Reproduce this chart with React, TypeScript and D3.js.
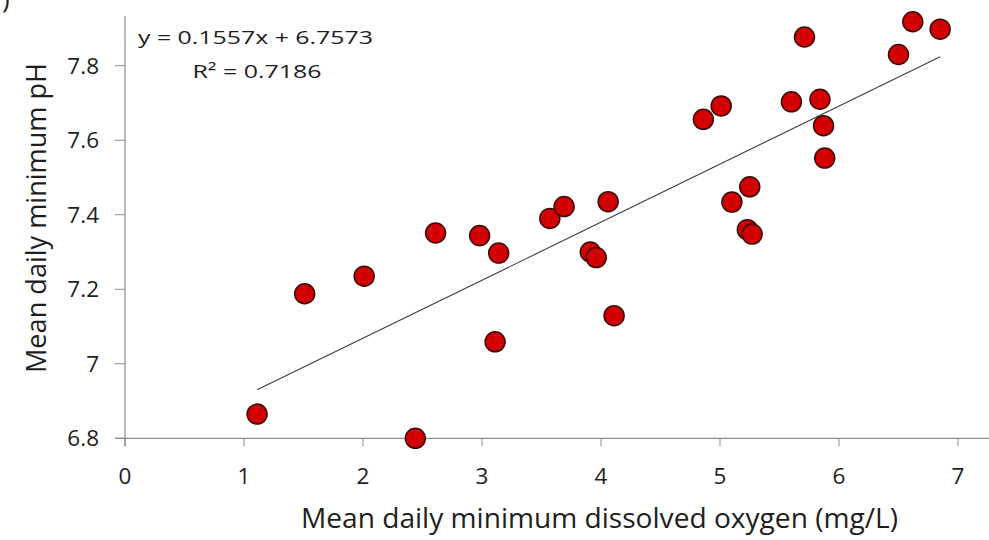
import React from "react";
import * as d3 from "d3";

const oxygen = [1.11, 1.51, 2.01, 2.44, 2.61, 2.98, 3.11, 3.14, 3.57, 3.69, 3.91, 3.96, 4.06, 4.11, 4.86, 5.01, 5.10, 5.23, 5.25, 5.27, 5.60, 5.71, 5.84, 5.87, 5.88, 6.50, 6.62, 6.85];
const minPH = [6.865, 7.188, 7.235, 6.80, 7.351, 7.344, 7.059, 7.297, 7.39, 7.422, 7.30, 7.285, 7.435, 7.129, 7.656, 7.692, 7.434, 7.36, 7.475, 7.348, 7.703, 7.877, 7.71, 7.639, 7.552, 7.83, 7.918, 7.898];
const xTicks = [0, 1, 2, 3, 4, 5, 6, 7];
const yTicks = [6.8, 7, 7.2, 7.4, 7.6, 7.8];
const slope = 0.1557;
const intercept = 6.7573;
const eqLabel = "y = 0.1557x + 6.7573";
const r2Label = "R² = 0.7186";
const xTitle = "Mean daily minimum dissolved oxygen (mg/L)";
const yTitle = "Mean daily minimum pH";

export default function App() {
  const W = 989, H = 540;
  const x = d3.scaleLinear().domain([0, 7]).range([125, 958]);
  const y = d3.scaleLinear().domain([6.8, 7.8]).range([438.3, 65.7]);
  const font = "'Open Sans', Lato, sans-serif";
  const xMin = d3.min(oxygen) as number;
  const xMax = d3.max(oxygen) as number;
  const line = d3.line<number>().x((d) => x(d)).y((d) => y(slope * d + intercept));
  const pts = oxygen.map((o, i) => ({ o, p: minPH[i] }));
  const ink = "#1e1e1e";
  return (
    <svg width={W} height={H} style={{ position: "absolute", left: 0, top: 0, background: "#fff" }} fontFamily={font}>
      <text x={2} y={8} fontSize={26} fill={ink}>)</text>
      {/* axes */}
      <line x1={115} x2={989} y1={y(6.8)} y2={y(6.8)} stroke="#8c8c8c" strokeWidth={1.2} />
      <line x1={x(0)} x2={x(0)} y1={y(6.8) + 8} y2={16} stroke="#8c8c8c" strokeWidth={1.2} />
      {xTicks.map((t) => (
        <g key={"xt" + t}>
          <line x1={x(t)} x2={x(t)} y1={y(6.8)} y2={y(6.8) + 8} stroke="#8c8c8c" strokeWidth={1} />
          <text x={x(t)} y={483.5} textAnchor="middle" fontSize={22.5} fill={ink}>{t}</text>
        </g>
      ))}
      {yTicks.map((t) => (
        <g key={"yt" + t}>
          <line x1={115} x2={x(0)} y1={y(t)} y2={y(t)} stroke="#8c8c8c" strokeWidth={1} />
          <text x={99} y={y(t) + 8} textAnchor="end" fontSize={22.5} fill={ink}>{String(t)}</text>
        </g>
      ))}
      {/* trendline */}
      <path d={line([xMin, xMax]) || ""} stroke="#3c3c3c" strokeWidth={1.1} fill="none" />
      {/* points */}
      {pts.map((d, i) => (
        <circle key={i} cx={x(d.o)} cy={y(d.p)} r={10} fill="#d20000" stroke="#3a0a0a" strokeWidth={1.5} />
      ))}
      <text x={138} y={44} fontSize={19} fill={ink} textLength={235} lengthAdjust="spacingAndGlyphs">{eqLabel}</text>
      <text x={192.5} y={77.5} fontSize={19} fill={ink} textLength={129} lengthAdjust="spacingAndGlyphs">{r2Label}</text>
      <text x={301} y={528} fontSize={26.5} fill={ink} textLength={597} lengthAdjust="spacingAndGlyphs">{xTitle}</text>
      <text transform={`translate(46,373) rotate(-90)`} fontSize={26.5} fill={ink} textLength={310} lengthAdjust="spacingAndGlyphs">{yTitle}</text>
    </svg>
  );
}
